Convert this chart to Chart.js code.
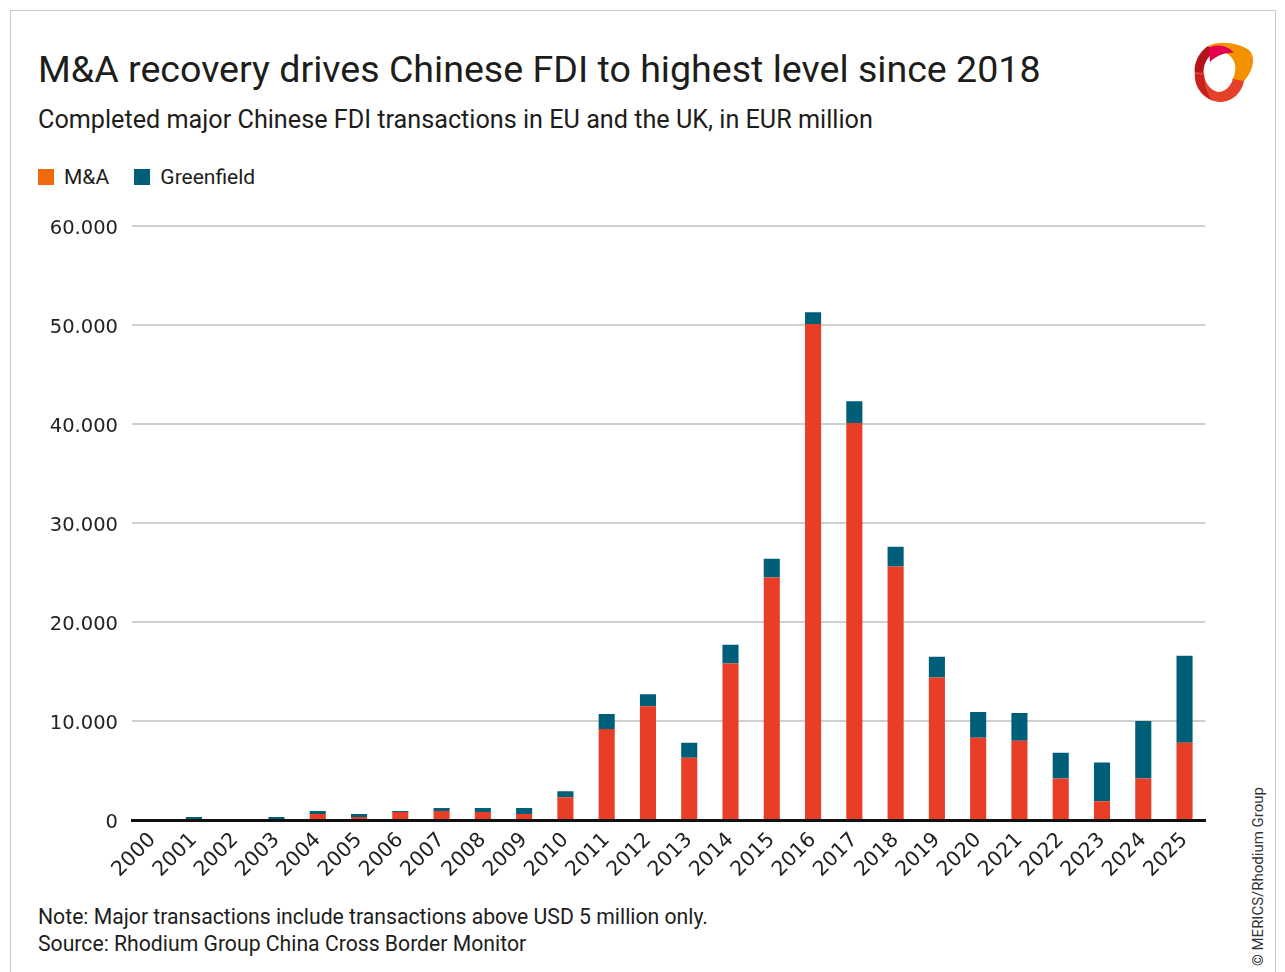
<!DOCTYPE html>
<html>
<head>
<meta charset="utf-8">
<script src="https://cdn.jsdelivr.net/npm/chart.js@4"></script>
<style>
  html, body { margin: 0; padding: 0; background: #fff; }
  body { width: 1285px; height: 972px; position: relative; overflow: hidden; font-family: Roboto, "Noto Sans", sans-serif; color: #1d1d1b; }
  #frame { position: absolute; left: 10px; top: 10px; width: 1266px; height: 1000px; border: 1px solid #c8c8c8; box-sizing: border-box; }
  #title { position: absolute; left: 38px; top: 47px; font-size: 37.6px; white-space: nowrap; }
  #subtitle { position: absolute; left: 38px; top: 105px; font-size: 25.2px; white-space: nowrap; }
  #legend { position: absolute; left: 38px; top: 165px; font-size: 21px; white-space: nowrap; }
  #legend span.box { display: inline-block; width: 16px; height: 16px; vertical-align: -1px; margin-right: 10px; }
  #legend span.item { margin-right: 20px; }
  #chartBox { position: absolute; left: 32px; top: 200px; width: 1178px; height: 700px; }
  #notes { position: absolute; left: 38px; top: 903px; font-size: 21.2px; line-height: 27px; white-space: nowrap; }
  #credit { position: absolute; left: 1249px; top: 966px; font-size: 15px; line-height: 18px; white-space: nowrap; transform: rotate(-90deg); transform-origin: left top; color: #333; }
  #logo { position: absolute; left: 1180px; top: 30px; width: 80px; height: 80px; }
</style>
</head>
<body>
<div id="frame"></div>
<div id="title">M&amp;A recovery drives Chinese FDI to highest level since 2018</div>
<div id="subtitle">Completed major Chinese FDI transactions in EU and the UK, in EUR million</div>
<div id="legend">
  <span class="item"><span class="box" style="background:#f06a0f"></span>M&amp;A</span>
  <span class="item"><span class="box" style="background:#005f78"></span>Greenfield</span>
</div>
<svg id="logo" viewBox="0 0 80 80">
  <path d="M28,16 C40,10 60,13 70,21 C77,30 71,45 62,53 L52,50 C58,40 56,28 46,23 Z" fill="#f39200"/>
  <path d="M28,16 C19,22 13,33 15,45 L24,46 C22,36 27,26 36,21 Z" fill="#b5121b"/>
  <path d="M29,18 C38,13 48,16 54,23 C45,22 36,26 30,32 Z" fill="#e4004f"/>
  <path d="M15,42 C13,57 24,71 40,72 C53,72 62,62 64,51 L53,49 C50,58 44,62 38,62 C30,60 24,52 24,43 Z" fill="#e5402a"/>
  <path d="M15,44 C15,56 22,66 32,70 C26,62 24,54 24,45 Z" fill="#c8201f"/>
  <ellipse cx="40" cy="42" rx="13" ry="13.5" fill="#fff"/>
</svg>
<div id="chartBox"><canvas id="chart"></canvas></div>
<div id="notes">Note: Major transactions include transactions above USD 5 million only.<br>Source: Rhodium Group China Cross Border Monitor</div>
<div id="credit">© MERICS/Rhodium Group</div>
<script>
// years on the x axis
const years = ["2000", "2001", "2002", "2003", "2004", "2005", "2006", "2007", "2008", "2009",
  "2010", "2011", "2012", "2013", "2014", "2015", "2016", "2017", "2018", "2019",
  "2020", "2021", "2022", "2023", "2024", "2025"];
// EUR million per year
const mergersAcq = [0, 0, 0, 0, 600, 300, 800, 900, 800, 600,
  2300, 9200, 11500, 6300, 15800, 24500, 50100, 40100, 25600, 14400,
  8300, 8000, 4200, 1900, 4200, 7800];
const greenfield = [0, 300, 0, 300, 300, 300, 100, 300, 400, 600,
  600, 1500, 1200, 1500, 1900, 1900, 1200, 2200, 2000, 2100,
  2600, 2800, 2600, 3900, 5800, 8800];
const yTicks = [0, 10000, 20000, 30000, 40000, 50000, 60000];

const fmt = v => String(v).replace(/\B(?=(\d{3})+(?!\d))/g, ".");

new Chart(document.getElementById("chart"), {
  type: "bar",
  data: {
    labels: years,
    datasets: [
      { label: "M&A", data: mergersAcq, backgroundColor: "#e83e28" },
      { label: "Greenfield", data: greenfield, backgroundColor: "#005f78" },
    ],
  },
  options: {
    responsive: true,
    maintainAspectRatio: false,
    animation: false,
    layout: { padding: { top: 26, right: 3, left: 0, bottom: 0 } },
    datasets: { bar: { barPercentage: 0.39, categoryPercentage: 1 } },
    plugins: {
      legend: { display: false },
      tooltip: { enabled: false },
    },
    scales: {
      x: {
        stacked: true,
        grid: { display: false, drawTicks: false },
        border: { color: "#111", width: 3 },
        ticks: { color: "#222", font: { family: "'DejaVu Sans'", size: 20.5 }, minRotation: 45, maxRotation: 45, padding: 8, autoSkip: false },
        afterFit: s => { s.height = 80; },
      },
      y: {
        stacked: true,
        min: 0,
        max: 60000,
        afterBuildTicks: s => { s.ticks = yTicks.map(v => ({ value: v })); },
        grid: { color: "#cfcfcf", lineWidth: 2, drawTicks: false },
        border: { display: false },
        ticks: { color: "#222", font: { family: "'DejaVu Sans'", size: 19.5 }, padding: 14, labelOffset: 3, callback: v => fmt(v) },
        afterFit: s => { s.width = 100; },
      },
    },
  },
});
</script>
</body>
</html>
